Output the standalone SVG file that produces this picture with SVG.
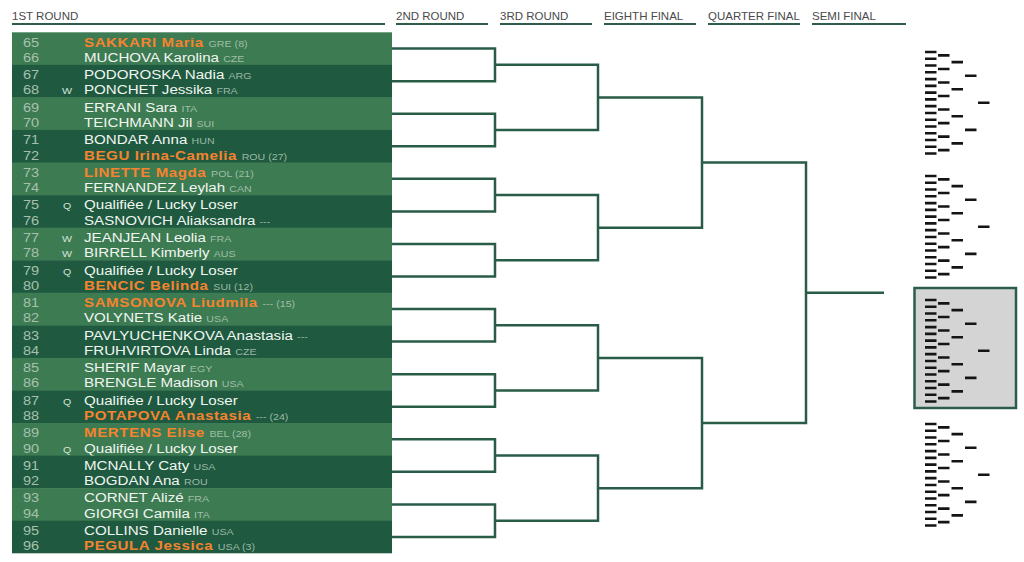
<svg xmlns="http://www.w3.org/2000/svg" width="1024" height="562" viewBox="0 0 1024 562">
<style>
text{font-family:"Liberation Sans",Arial,sans-serif}
.hd{font-size:11.5px;fill:#4a4a4a}
.ul{stroke:#2e5e49;stroke-width:2}
.lt{fill:#3d7b52}
.dk{fill:#1f5a40}
.num{font-size:13px;fill:#a6c0ad}
.fl{font-size:9.5px;fill:#d3e2d7}
.nm{font-size:13.5px;fill:#f1f6f1}
.sd{font-weight:bold;fill:#f5832f;letter-spacing:.5px}
.cc{font-size:9.5px;font-weight:normal;letter-spacing:0;fill:#b5cbbb;fill-opacity:.85}
.br{fill:none;stroke:#285c47;stroke-width:2.5}
.mb{fill:none;stroke:#141414;stroke-width:2.6}
.box{fill:#d4d4d4;stroke:#2b5e49;stroke-width:2.5}
</style>
<defs>
<path id="mini" d="M925 0h11.5M925 6.77h11.5M925 13.54h11.5M925 20.31h11.5M925 27.08h11.5M925 33.85h11.5M925 40.62h11.5M925 47.39h11.5M925 54.16h11.5M925 60.93h11.5M925 67.7h11.5M925 74.47h11.5M925 81.24h11.5M925 88.01h11.5M925 94.78h11.5M925 101.55h11.5M938 3.39h11.5M938 16.93h11.5M938 30.47h11.5M938 44.01h11.5M938 57.55h11.5M938 71.09h11.5M938 84.63h11.5M938 98.17h11.5M951.5 10.16h11.5M951.5 37.24h11.5M951.5 64.32h11.5M951.5 91.4h11.5M965 23.7h11.5M965 77.86h11.5M978 50.78h11.5"/>
</defs>

<g id="headers">
<text class="hd" x="12" y="19.5">1ST ROUND</text><line class="ul" x1="12" y1="24" x2="385" y2="24"/>
<text class="hd" x="396" y="19.5">2ND ROUND</text><line class="ul" x1="396" y1="24" x2="488" y2="24"/>
<text class="hd" x="500" y="19.5">3RD ROUND</text><line class="ul" x1="500" y1="24" x2="592" y2="24"/>
<text class="hd" x="604" y="19.5">EIGHTH FINAL</text><line class="ul" x1="604" y1="24" x2="696" y2="24"/>
<text class="hd" x="708" y="19.5">QUARTER FINAL</text><line class="ul" x1="708" y1="24" x2="800" y2="24"/>
<text class="hd" x="812" y="19.5">SEMI FINAL</text><line class="ul" x1="812" y1="24" x2="906" y2="24"/>
</g>

<g id="match-65-66" transform="translate(0,32.3)"><rect class="lt" x="12" y="0" width="380" height="33"/><g transform="scale(1.12,1)">
<text class="num" x="20.5" y="14.3">65</text><text class="nm sd" x="75" y="14.3">SAKKARI Maria <tspan class="cc">GRE (8)</tspan></text>
<text class="num" x="20.5" y="29.6">66</text><text class="nm" x="75" y="29.6">MUCHOVA Karolina <tspan class="cc">CZE</tspan></text></g></g>

<g id="match-67-68" transform="translate(0,64.86)"><rect class="dk" x="12" y="0" width="380" height="33"/><g transform="scale(1.12,1)">
<text class="num" x="20.5" y="14.3">67</text><text class="nm" x="75" y="14.3">PODOROSKA Nadia <tspan class="cc">ARG</tspan></text>
<text class="num" x="20.5" y="29.6">68</text><text class="fl" x="55.4" y="29.6">W</text><text class="nm" x="75" y="29.6">PONCHET Jessika <tspan class="cc">FRA</tspan></text></g></g>

<g id="match-69-70" transform="translate(0,97.42)"><rect class="lt" x="12" y="0" width="380" height="33"/><g transform="scale(1.12,1)">
<text class="num" x="20.5" y="14.3">69</text><text class="nm" x="75" y="14.3">ERRANI Sara <tspan class="cc">ITA</tspan></text>
<text class="num" x="20.5" y="29.6">70</text><text class="nm" x="75" y="29.6">TEICHMANN Jil <tspan class="cc">SUI</tspan></text></g></g>

<g id="match-71-72" transform="translate(0,129.98)"><rect class="dk" x="12" y="0" width="380" height="33"/><g transform="scale(1.12,1)">
<text class="num" x="20.5" y="14.3">71</text><text class="nm" x="75" y="14.3">BONDAR Anna <tspan class="cc">HUN</tspan></text>
<text class="num" x="20.5" y="29.6">72</text><text class="nm sd" x="75" y="29.6">BEGU Irina-Camelia <tspan class="cc">ROU (27)</tspan></text></g></g>

<g id="match-73-74" transform="translate(0,162.54)"><rect class="lt" x="12" y="0" width="380" height="33"/><g transform="scale(1.12,1)">
<text class="num" x="20.5" y="14.3">73</text><text class="nm sd" x="75" y="14.3">LINETTE Magda <tspan class="cc">POL (21)</tspan></text>
<text class="num" x="20.5" y="29.6">74</text><text class="nm" x="75" y="29.6">FERNANDEZ Leylah <tspan class="cc">CAN</tspan></text></g></g>

<g id="match-75-76" transform="translate(0,195.1)"><rect class="dk" x="12" y="0" width="380" height="33"/><g transform="scale(1.12,1)">
<text class="num" x="20.5" y="14.3">75</text><text class="fl" x="56.2" y="14.3">Q</text><text class="nm" x="75" y="14.3">Qualifiée / Lucky Loser</text>
<text class="num" x="20.5" y="29.6">76</text><text class="nm" x="75" y="29.6">SASNOVICH Aliaksandra <tspan class="cc">---</tspan></text></g></g>

<g id="match-77-78" transform="translate(0,227.66)"><rect class="lt" x="12" y="0" width="380" height="33"/><g transform="scale(1.12,1)">
<text class="num" x="20.5" y="14.3">77</text><text class="fl" x="55.4" y="14.3">W</text><text class="nm" x="75" y="14.3">JEANJEAN Leolia <tspan class="cc">FRA</tspan></text>
<text class="num" x="20.5" y="29.6">78</text><text class="fl" x="55.4" y="29.6">W</text><text class="nm" x="75" y="29.6">BIRRELL Kimberly <tspan class="cc">AUS</tspan></text></g></g>

<g id="match-79-80" transform="translate(0,260.22)"><rect class="dk" x="12" y="0" width="380" height="33"/><g transform="scale(1.12,1)">
<text class="num" x="20.5" y="14.3">79</text><text class="fl" x="56.2" y="14.3">Q</text><text class="nm" x="75" y="14.3">Qualifiée / Lucky Loser</text>
<text class="num" x="20.5" y="29.6">80</text><text class="nm sd" x="75" y="29.6">BENCIC Belinda <tspan class="cc">SUI (12)</tspan></text></g></g>

<g id="match-81-82" transform="translate(0,292.78)"><rect class="lt" x="12" y="0" width="380" height="33"/><g transform="scale(1.12,1)">
<text class="num" x="20.5" y="14.3">81</text><text class="nm sd" x="75" y="14.3">SAMSONOVA Liudmila <tspan class="cc">--- (15)</tspan></text>
<text class="num" x="20.5" y="29.6">82</text><text class="nm" x="75" y="29.6">VOLYNETS Katie <tspan class="cc">USA</tspan></text></g></g>

<g id="match-83-84" transform="translate(0,325.34)"><rect class="dk" x="12" y="0" width="380" height="33"/><g transform="scale(1.12,1)">
<text class="num" x="20.5" y="14.3">83</text><text class="nm" x="75" y="14.3">PAVLYUCHENKOVA Anastasia <tspan class="cc">---</tspan></text>
<text class="num" x="20.5" y="29.6">84</text><text class="nm" x="75" y="29.6">FRUHVIRTOVA Linda <tspan class="cc">CZE</tspan></text></g></g>

<g id="match-85-86" transform="translate(0,357.9)"><rect class="lt" x="12" y="0" width="380" height="33"/><g transform="scale(1.12,1)">
<text class="num" x="20.5" y="14.3">85</text><text class="nm" x="75" y="14.3">SHERIF Mayar <tspan class="cc">EGY</tspan></text>
<text class="num" x="20.5" y="29.6">86</text><text class="nm" x="75" y="29.6">BRENGLE Madison <tspan class="cc">USA</tspan></text></g></g>

<g id="match-87-88" transform="translate(0,390.46)"><rect class="dk" x="12" y="0" width="380" height="33"/><g transform="scale(1.12,1)">
<text class="num" x="20.5" y="14.3">87</text><text class="fl" x="56.2" y="14.3">Q</text><text class="nm" x="75" y="14.3">Qualifiée / Lucky Loser</text>
<text class="num" x="20.5" y="29.6">88</text><text class="nm sd" x="75" y="29.6">POTAPOVA Anastasia <tspan class="cc">--- (24)</tspan></text></g></g>

<g id="match-89-90" transform="translate(0,423.02)"><rect class="lt" x="12" y="0" width="380" height="33"/><g transform="scale(1.12,1)">
<text class="num" x="20.5" y="14.3">89</text><text class="nm sd" x="75" y="14.3">MERTENS Elise <tspan class="cc">BEL (28)</tspan></text>
<text class="num" x="20.5" y="29.6">90</text><text class="fl" x="56.2" y="29.6">Q</text><text class="nm" x="75" y="29.6">Qualifiée / Lucky Loser</text></g></g>

<g id="match-91-92" transform="translate(0,455.58)"><rect class="dk" x="12" y="0" width="380" height="33"/><g transform="scale(1.12,1)">
<text class="num" x="20.5" y="14.3">91</text><text class="nm" x="75" y="14.3">MCNALLY Caty <tspan class="cc">USA</tspan></text>
<text class="num" x="20.5" y="29.6">92</text><text class="nm" x="75" y="29.6">BOGDAN Ana <tspan class="cc">ROU</tspan></text></g></g>

<g id="match-93-94" transform="translate(0,488.14)"><rect class="lt" x="12" y="0" width="380" height="33"/><g transform="scale(1.12,1)">
<text class="num" x="20.5" y="14.3">93</text><text class="nm" x="75" y="14.3">CORNET Alizé <tspan class="cc">FRA</tspan></text>
<text class="num" x="20.5" y="29.6">94</text><text class="nm" x="75" y="29.6">GIORGI Camila <tspan class="cc">ITA</tspan></text></g></g>

<g id="match-95-96" transform="translate(0,520.7)"><rect class="dk" x="12" y="0" width="380" height="32.6"/><g transform="scale(1.12,1)">
<text class="num" x="20.5" y="14.3">95</text><text class="nm" x="75" y="14.3">COLLINS Danielle <tspan class="cc">USA</tspan></text>
<text class="num" x="20.5" y="29.6">96</text><text class="nm sd" x="75" y="29.6">PEGULA Jessica <tspan class="cc">USA (3)</tspan></text></g></g>

<g id="connectors" class="br">
<path d="M392 48.58H495V81.14H392M392 113.7H495V146.26H392M392 178.82H495V211.38H392M392 243.94H495V276.5H392M392 309.06H495V341.62H392M392 374.18H495V406.74H392M392 439.3H495V471.86H392M392 504.42H495V536.98H392"/>
<path d="M495 64.86H598V129.98H495M495 195.1H598V260.22H495M495 325.34H598V390.46H495M495 455.58H598V520.7H495"/>
<path d="M598 97.42H702V227.66H598M598 357.9H702V488.14H598"/>
<path d="M702 162.54H806V423.02H702"/>
<path d="M806 292.78H884"/>
</g>

<g id="mini-overview">
<rect id="current-section" class="box" x="914.5" y="288" width="101.5" height="120"/>
<use class="mb" href="#mini" y="52"/>
<use class="mb" href="#mini" y="176"/>
<use class="mb" href="#mini" y="300"/>
<use class="mb" href="#mini" y="424"/>
</g>
</svg>
